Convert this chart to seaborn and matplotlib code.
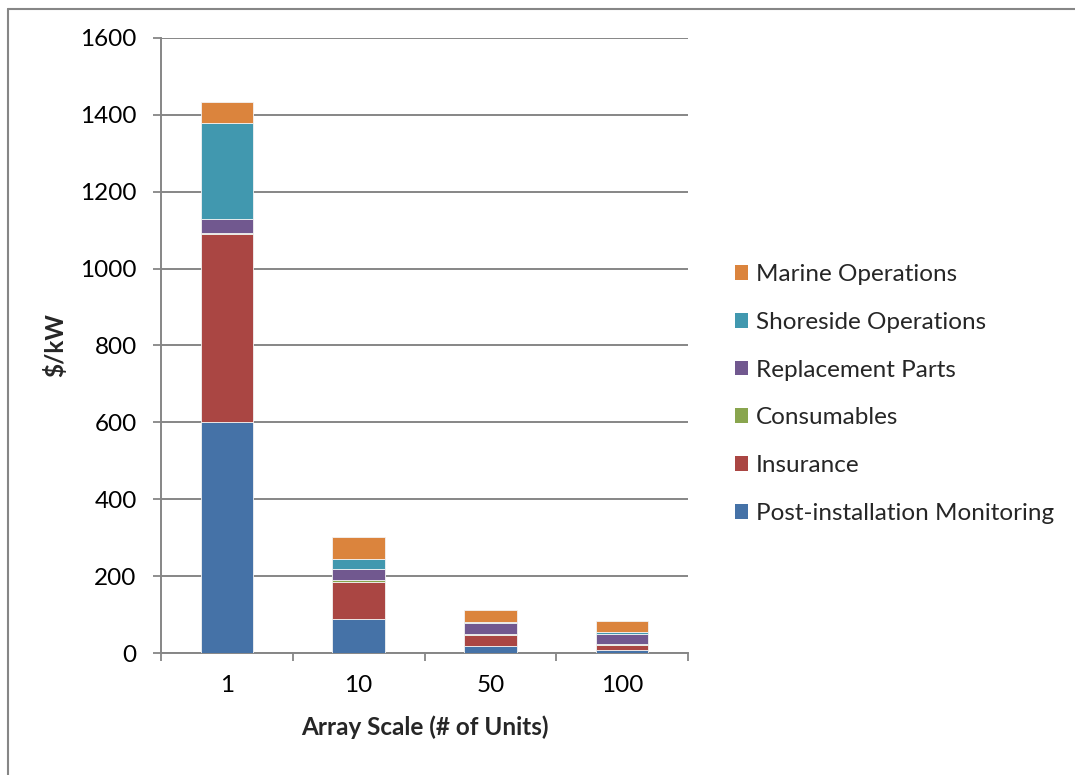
import matplotlib
matplotlib.use("Agg")
import matplotlib.pyplot as plt
from matplotlib.patches import Patch
from matplotlib.lines import Line2D
import seaborn as sns
import numpy as np

# Array sizes (number of units) and O&M cost components in $/kW
scales = ["1", "10", "50", "100"]
monitoring = [600, 88, 18, 9]
insurance = [490, 98, 29, 12]
consumables = [3, 3, 2, 3]
replacement = [35, 29, 28, 26]
shoreside = [250, 26, 4, 4]
marine = [56, 57, 30, 30]

series_names = ["Post-installation Monitoring", "Insurance", "Consumables",
                "Replacement Parts", "Shoreside Operations", "Marine Operations"]
series_values = [monitoring, insurance, consumables, replacement, shoreside, marine]
series_colors = ["#4572A7", "#AA4643", "#89A54E", "#71588F", "#4198AF", "#DB843D"]

yticks = [0, 200, 400, 600, 800, 1000, 1200, 1400, 1600]

sns.set_theme(style="white")
plt.rcParams["font.family"] = ["Lato", "DejaVu Sans"]

FS = 17.5
grey = "#868686"
fig = plt.figure(figsize=(10.75, 7.75), dpi=100)
ax = fig.add_axes([161 / 1075, 1 - 653 / 775, (688 - 161) / 1075, (653 - 38) / 775])

bottom = np.zeros(len(scales))
for name, vals, col in zip(series_names, series_values, series_colors):
    sns.barplot(x=scales, y=vals, order=scales, color=col, width=0.4,
                bottom=bottom, errorbar=None, ax=ax, saturation=1,
                edgecolor="#f2f2f2", linewidth=0.6, zorder=3)
    bottom = bottom + np.array(vals)

ax.set_xlim(-0.5, 3.5)
ax.set_ylim(0, 1600)
ax.set_yticks(yticks)
ax.set_yticklabels([str(v) for v in yticks], fontsize=FS, color="black")
ax.yaxis.grid(True, color=grey, linewidth=1.4, zorder=0)
ax.set_axisbelow(True)

ax.set_xticks(range(len(scales)))
ax.set_xticklabels(scales, fontsize=FS, color="black")
ax.set_xticks(np.arange(-0.5, len(scales), 1.0), minor=True)
ax.tick_params(axis="x", which="major", length=0, pad=16)
ax.tick_params(axis="x", which="minor", length=5.5, width=1.3, color=grey, direction="out", bottom=True)
ax.tick_params(axis="y", which="major", length=5.5, width=1.3, color=grey, direction="out", left=True, pad=12)

for side in ["top", "right"]:
    ax.spines[side].set_visible(False)
for side in ["left", "bottom"]:
    ax.spines[side].set_color(grey)
    ax.spines[side].set_linewidth(1.4)

ax.set_xlabel("Array Scale (# of Units)", fontsize=FS, fontweight="bold", labelpad=14)
ax.set_ylabel("$/kW", fontsize=FS, fontweight="bold", labelpad=9)

handles = [Patch(facecolor=c, edgecolor="none", label=n)
           for n, c in zip(series_names, series_colors)][::-1]
fig.legend(handles=handles, loc="center left", bbox_to_anchor=(713 / 1075, 1 - 394 / 775),
           frameon=False, fontsize=FS, handlelength=0.55, handleheight=0.55,
           handletextpad=0.3, labelspacing=1.1)

# chart-area border
fig.add_artist(Line2D([8 / 1075, 8 / 1075], [0, 1 - 8.5 / 775], transform=fig.transFigure,
                      color=grey, linewidth=1.5))
fig.add_artist(Line2D([8 / 1075, 1], [1 - 8.5 / 775, 1 - 8.5 / 775], transform=fig.transFigure,
                      color=grey, linewidth=1.5))

fig.savefig("out.png", dpi=100)
